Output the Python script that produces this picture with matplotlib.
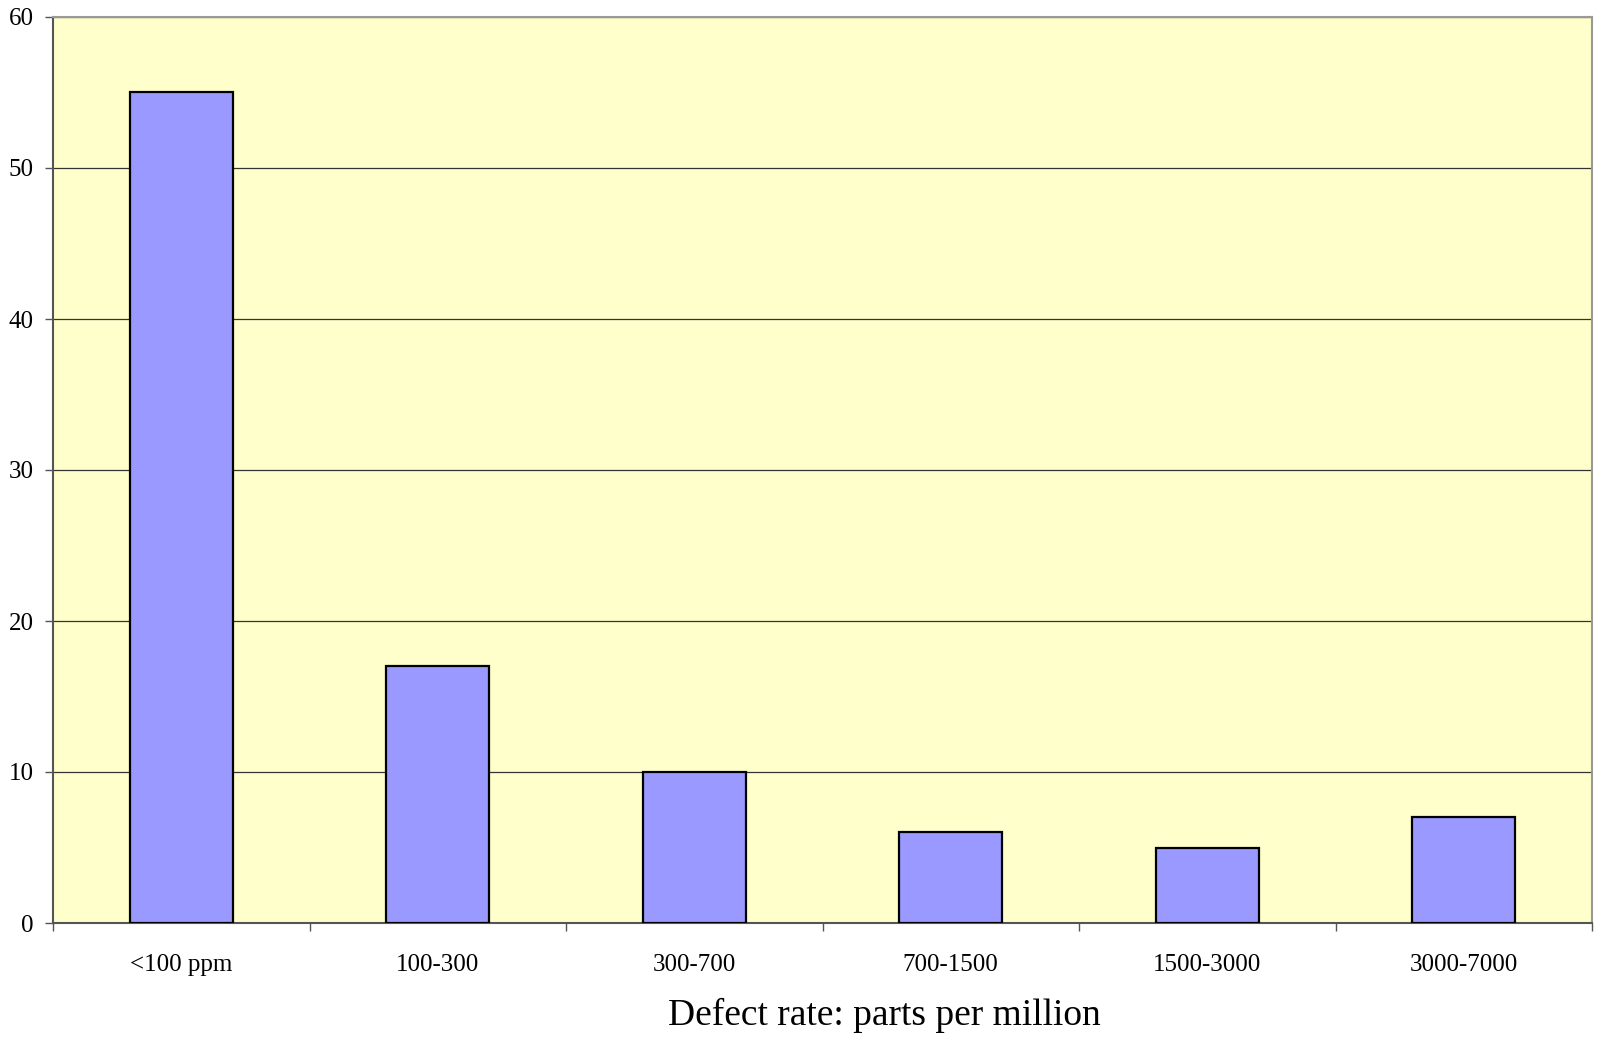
import numpy as np
import matplotlib.pyplot as plt

categories = ["<100 ppm", "100-300", "300-700", "700-1500", "1500-3000", "3000-7000"]
counts = [55, 17, 10, 6, 5, 7]

plt.rcParams['font.family'] = ['Liberation Serif', 'DejaVu Serif']

fig = plt.figure(figsize=(15.98, 10.39), dpi=100)
ax = fig.add_axes([53 / 1598, 116 / 1039, 1539 / 1598, 906 / 1039])
ax.set_facecolor("#FFFFCC")

x = np.arange(len(categories)) + 0.5
ax.bar(x, counts, width=0.4, color="#9999FF", edgecolor="black", linewidth=1.6, zorder=3)

ax.set_xlim(0, len(categories))
ax.set_ylim(0, 60)
ax.set_yticks(np.arange(0, 61, 10))
ax.yaxis.grid(True, color="#333333", linewidth=0.9, zorder=1)
ax.tick_params(axis='y', direction='out', length=6, width=1, labelsize=18, pad=8, colors='#555555', labelcolor='black')

# category boundaries carry the tick marks, centers carry the labels
ax.set_xticks(np.arange(len(categories) + 1))
ax.set_xticklabels([])
ax.set_xticks(x, minor=True)
ax.set_xticklabels(categories, minor=True)
ax.tick_params(axis='x', which='major', direction='out', length=6, width=1, colors='#555555')
ax.tick_params(axis='x', which='minor', length=0, labelsize=18, pad=22)

for side in ["left", "bottom"]:
    ax.spines[side].set_color("#555555")
    ax.spines[side].set_linewidth(1.5)
for side in ["top", "right"]:
    ax.spines[side].set_color("#999999")
    ax.spines[side].set_linewidth(1.5)

fig.text(884 / 1598, 14 / 1039, "Defect rate: parts per million", ha='center', va='baseline', fontsize=27)

fig.savefig("out.png", dpi=100)
